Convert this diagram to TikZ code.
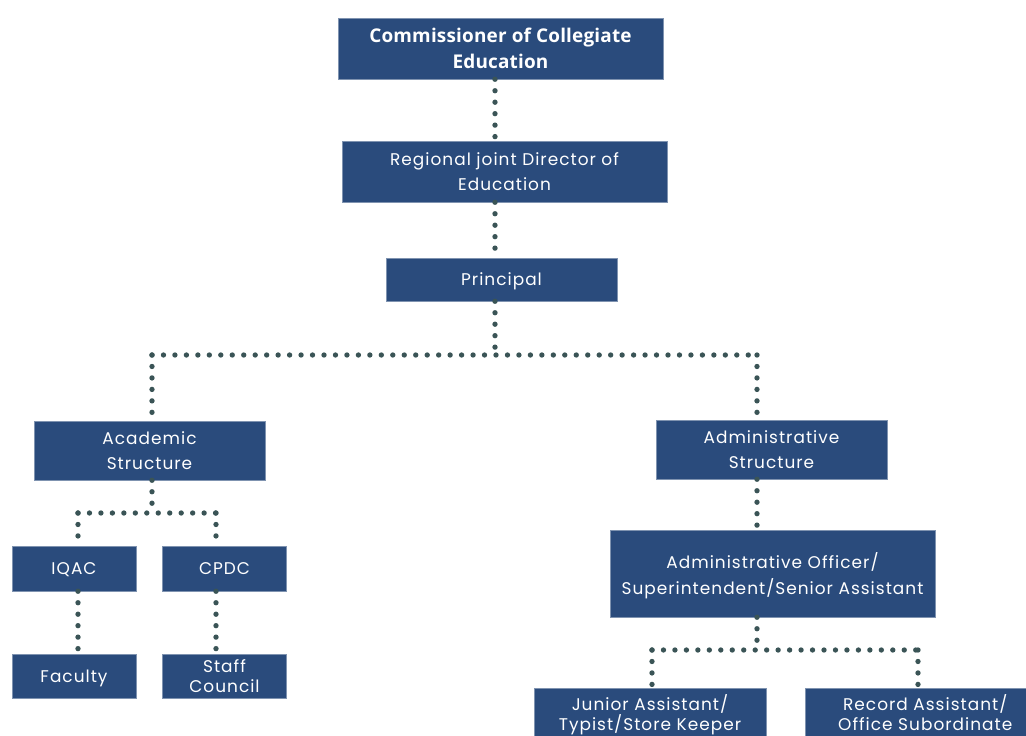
\documentclass[tikz,border=0pt]{standalone}
\usepackage{fontspec}
\setmainfont{Poppins}[LetterSpace=6]
\newfontfamily\boldfont{Open Sans}[LetterSpace=1]
\usepackage{xcolor}
\definecolor{orgblue}{RGB}{42,75,124}
\definecolor{orgdot}{RGB}{58,84,86}
\usetikzlibrary{calc, positioning}

\tikzset{
  orgbox/.style={fill=orgblue, draw=orgblue!60!white, line width=0.4pt, text=white,
    font=\fontsize{12.7}{19}\selectfont, align=center, inner sep=0pt, text depth=0pt},
  link/.style={orgdot, line width=4pt, line cap=round, dash pattern=on 0pt off 8.6pt}
}

\begin{document}
\begin{tikzpicture}[x=0.75pt, y=-0.75pt]
  \useasboundingbox (0,0) rectangle (1026,736);
  \clip (0,0) rectangle (1026,736);

  % Top of the chain
  \node[orgbox, minimum width=243.75pt, minimum height=45.75pt,
        font=\boldfont\bfseries\fontsize{14.2}{19.5}\selectfont] (comm) at (500.5,48.5)
       {Commissioner of Collegiate\\Education};
  \node[orgbox, minimum width=243.75pt, minimum height=45.75pt] (reg) at (504.5,171.5)
       {Regional joint Director of\\Education};
  \node[orgbox, minimum width=173.25pt, minimum height=32.25pt] (prin) at (501.5,279.5)
       {Principal};

  % Two structures
  \node[orgbox, minimum width=173.25pt, minimum height=44.25pt] (acad) at (149.5,450.5)
       {Academic\\Structure};
  \node[orgbox, minimum width=173.25pt, minimum height=44.25pt] (adm) at (771.5,449.5)
       {Administrative\\Structure};

  % Academic side
  \node[orgbox, minimum width=93pt, minimum height=33.75pt] (iqac) at (74,568.5) {IQAC};
  \node[orgbox, minimum width=93pt, minimum height=33.75pt] (cpdc) at (224.5,568.5) {CPDC};
  \node[orgbox, minimum width=93pt, minimum height=33pt] (fac) at (74,676) {Faculty};
  \node[orgbox, minimum width=93pt, minimum height=33pt,
        font=\fontsize{12.7}{14.3}\selectfont] (staff) at (224.5,676)
       {Staff\\Council};

  % Administrative side
  \node[orgbox, minimum width=243.75pt, minimum height=65.25pt] (offc) at (772.5,573.5)
       {Administrative Officer/\\Superintendent/Senior Assistant};
  \node[orgbox, minimum width=174pt, minimum height=36.5pt, anchor=north,
        font=\fontsize{12.7}{15}\selectfont] (jun) at (650,688)
       {Junior Assistant/\\Typist/Store Keeper};
  \node[orgbox, minimum width=180pt, minimum height=36.5pt, anchor=north west,
        font=\fontsize{12.7}{15}\selectfont] (rec) at (805,688)
       {Record Assistant/\\Office Subordinate};

  % Junction points
  \coordinate (top) at (495,0);
  \coordinate (mainbar) at (495,355);
  \coordinate (leftbar) at (152,355);
  \coordinate (rightbar) at (757,355);
  \coordinate (acbar) at (152,513);
  \coordinate (acl) at (78,513);
  \coordinate (acr) at (216,513);
  \coordinate (adbar) at (757,650);
  \coordinate (adl) at (652,650);
  \coordinate (adr) at (918,650);

  % Dotted links
  \draw[link] (comm.south -| top) -- (reg.north -| top);
  \draw[link] (reg.south -| top) -- (prin.north -| top);
  \draw[link] (prin.south -| top) -- (mainbar);
  \draw[link] (leftbar) -- (rightbar);
  \draw[link] (leftbar) -- (acad.north -| leftbar);
  \draw[link] (rightbar) -- (adm.north -| rightbar);

  \draw[link] (acad.south -| acbar) -- (acbar);
  \draw[link] (acl) -- (acr);
  \draw[link] (acl) -- (iqac.north -| acl);
  \draw[link] (acr) -- (cpdc.north -| acr);
  \draw[link] (iqac.south -| acl) -- (fac.north -| acl);
  \draw[link] (cpdc.south -| acr) -- (staff.north -| acr);

  \draw[link] (adm.south -| rightbar) -- (offc.north -| rightbar);
  \draw[link] (offc.south -| adbar) -- (adbar);
  \draw[link] (adl) -- (adr);
  \draw[link] (adl) -- (jun.north -| adl);
  \draw[link] (adr) -- (rec.north -| adr);
\end{tikzpicture}
\end{document}
